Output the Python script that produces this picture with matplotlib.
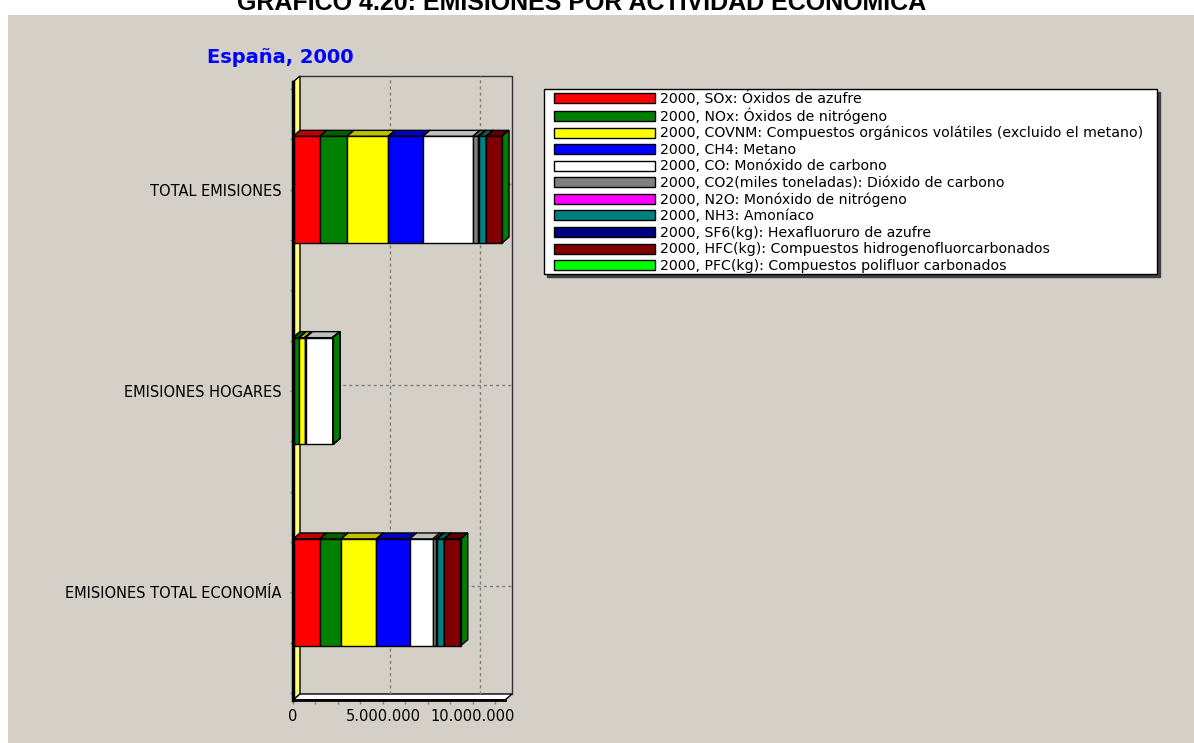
import matplotlib
matplotlib.use("Agg")
import matplotlib.pyplot as plt
from matplotlib.patches import Polygon, Rectangle, Patch
from matplotlib.legend_handler import HandlerPatch
from matplotlib.ticker import FixedLocator, MultipleLocator, FuncFormatter
from matplotlib.colors import to_rgb

# Datos (toneladas / kg segun contaminante)
categorias = ["EMISIONES TOTAL ECONOMÍA", "EMISIONES HOGARES", "TOTAL EMISIONES"]
posiciones = [0, 1, 2]

contaminantes = [
    "2000, SOx: Óxidos de azufre",
    "2000, NOx: Óxidos de nitrógeno",
    "2000, COVNM: Compuestos orgánicos volátiles (excluido el metano)",
    "2000, CH4: Metano",
    "2000, CO: Monóxido de carbono",
    "2000, CO2(miles toneladas): Dióxido de carbono",
    "2000, N2O: Monóxido de nitrógeno",
    "2000, NH3: Amoníaco",
    "2000, SF6(kg): Hexafluoruro de azufre",
    "2000, HFC(kg): Compuestos hidrogenofluorcarbonados",
    "2000, PFC(kg): Compuestos polifluor carbonados",
]
colores = ["#FF0000", "#008000", "#FFFF00", "#0000FF", "#FFFFFF", "#808080",
           "#FF00FF", "#008080", "#000080", "#800000", "#00FF00"]

# orden: economia, hogares, total
sox = [1480000, 20000, 1480000]
nox = [1190000, 330000, 1520000]
covnm = [1960000, 290000, 2290000]
ch4 = [1850000, 60000, 1930000]
co = [1300000, 1500000, 2780000]
co2 = [180000, 10000, 290000]
n2o = [40000, 5000, 40000]
nh3 = [400000, 0, 400000]
sf6 = [10000, 0, 10000]
hfc = [890000, 0, 850000]
pfc = [20000, 0, 20000]
series = [sox, nox, covnm, ch4, co, co2, n2o, nh3, sf6, hfc, pfc]

W, H = 1194, 743
fig = plt.figure(figsize=(W / 100, H / 100), dpi=100)
fig.patch.set_facecolor("white")
fig.add_artist(Rectangle((8 / W, 0), (W - 8) / W, (H - 15) / H, transform=fig.transFigure,
                         facecolor="#D4D0C8", edgecolor="none", zorder=-10))

fig.text(582 / W, 1 - 9.5 / H, "GRÁFICO 4.20: EMISIONES POR ACTIVIDAD ECONÓMICA",
         ha="center", va="baseline", fontsize=18, fontweight="bold", family="Liberation Sans")
fig.text(207 / W, 1 - 63 / H, "España, 2000", ha="left", va="baseline",
         fontsize=14, fontweight="bold", color="#0000FF")

ax_w_px, ax_h_px = 212, 618
ax = fig.add_axes([293 / W, 43 / H, ax_w_px / W, ax_h_px / H])
ax.set_facecolor("none")
xmax = 11.78e6
ax.set_xlim(0, xmax)
ax.set_ylim(-0.535, 2.535)
ylo, yhi = ax.get_ylim()

# profundidad 3D en unidades de datos
dx = 7 * xmax / ax_w_px
dy = 6 * (yhi - ylo) / ax_h_px
alto = 0.53


def oscuro(c, f):
    r, g, b = to_rgb(c)
    return (r * f, g * f, b * f)


# pared izquierda y suelo
ax.add_patch(Polygon([(0, ylo), (0, yhi), (dx, yhi + dy), (dx, ylo + dy)], closed=True,
                     facecolor="#FFFF80", edgecolor="black", lw=1, clip_on=False, zorder=1))
ax.add_patch(Polygon([(0, ylo), (xmax, ylo), (xmax + dx, ylo + dy), (dx, ylo + dy)], closed=True,
                     facecolor="white", edgecolor="black", lw=1, clip_on=False, zorder=1))
ax.plot([dx, xmax + dx, xmax + dx], [yhi + dy, yhi + dy, ylo + dy], color="#303030", lw=1,
        clip_on=False, zorder=1)

# rejilla en el fondo
for xv in [5e6, 10e6]:
    ax.plot([xv + dx, xv + dx], [ylo + dy, yhi + dy], color="#808080", lw=1,
            ls=(0, (2.2, 2.2)), clip_on=False, zorder=1.5)
for yv in posiciones:
    ax.plot([dx, xmax + dx], [yv + dy, yv + dy], color="#808080", lw=1,
            ls=(0, (2.2, 2.2)), clip_on=False, zorder=1.5)

# barras apiladas con efecto 3D
izq = [0, 0, 0]
for vals, col in zip(series, colores):
    for i, yv in enumerate(posiciones):
        x0, x1 = izq[i], izq[i] + vals[i]
        yt, yb = yv + alto / 2, yv - alto / 2
        ax.add_patch(Polygon([(x0, yt), (x1, yt), (x1 + dx, yt + dy), (x0 + dx, yt + dy)],
                             closed=True, facecolor=oscuro(col, 0.75), edgecolor="black",
                             lw=1, clip_on=False, zorder=3))
        ax.add_patch(Polygon([(x1, yb), (x1 + dx, yb + dy), (x1 + dx, yt + dy), (x1, yt)],
                             closed=True, facecolor=oscuro(col, 0.5), edgecolor="black",
                             lw=1, clip_on=False, zorder=3))
    ax.barh(posiciones, vals, left=izq, height=alto, color=col, edgecolor="black",
            linewidth=1, zorder=3, clip_on=False)
    izq = [a + b for a, b in zip(izq, vals)]

for s in ["top", "right"]:
    ax.spines[s].set_visible(False)
ax.spines["left"].set_linewidth(2.5)
ax.spines["bottom"].set_linewidth(2)
ax.spines["left"].set_zorder(4)
ax.spines["bottom"].set_zorder(4)

ax.yaxis.set_major_locator(FixedLocator(posiciones))
ax.yaxis.set_minor_locator(MultipleLocator(0.25))
ax.set_yticklabels(categorias)
ax.tick_params(axis="y", which="both", length=2.5, width=1, color="#808080", pad=6,
               labelsize=10.5)

ax.xaxis.set_major_locator(FixedLocator([0, 5e6, 10e6]))
ax.xaxis.set_minor_locator(MultipleLocator(1.25e6))
ax.xaxis.set_major_formatter(FuncFormatter(lambda v, p: f"{int(v):,}".replace(",", ".")))
ax.tick_params(axis="x", which="both", length=3, width=1, color="#808080", pad=3.6,
               labelsize=10.5)

# leyenda: filas de ~16.8 px, muestras de 101x10 px
fs_ley = 10.2
px = 72 / 100  # puntos por pixel


def muestra(legend, orig_handle, xdescent, ydescent, width, height, fontsize):
    off = 9 * px
    h = 10 * px
    return Rectangle((-xdescent + off, -ydescent + (height - h) / 2), width - off, h)


handles = [Patch(facecolor=c, edgecolor="black", lw=1) for c in colores]
leg = ax.legend(handles, contaminantes, loc="upper left",
                bbox_to_anchor=(544 / W, 1 - 275 / H, 613 / W, 186 / H),
                bbox_transform=fig.transFigure, mode="expand", ncols=1, fontsize=fs_ley,
                handlelength=110 * px / fs_ley, handleheight=16.8 * px / fs_ley,
                handletextpad=5 * px / fs_ley, labelspacing=1.6 * px / fs_ley,
                borderpad=0.08, borderaxespad=0, frameon=True, fancybox=False,
                shadow={"color": "#404040", "alpha": 1},
                handler_map={Patch: HandlerPatch(patch_func=muestra)})
leg.get_frame().set_edgecolor("black")
leg.get_frame().set_linewidth(1)
leg.get_frame().set_facecolor("white")
leg.get_frame().set_alpha(1)

fig.savefig("out.png", dpi=100)
